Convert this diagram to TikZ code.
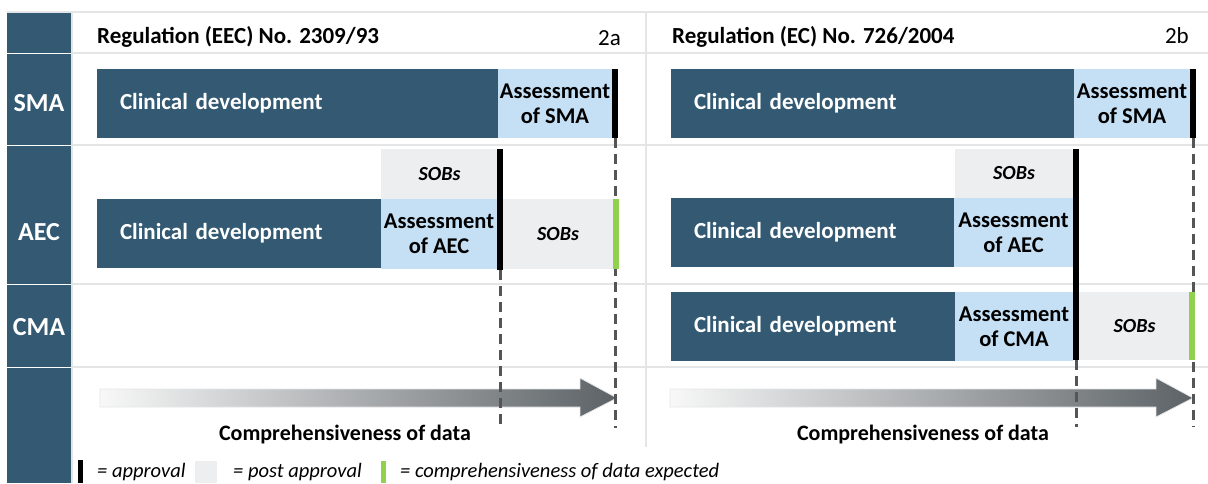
\documentclass[tikz,border=0pt]{standalone}
\usepackage{fontspec}
\setmainfont{Carlito}
\definecolor{devblue}{HTML}{345A73}
\definecolor{assessblue}{HTML}{C5E0F4}
\definecolor{sobgray}{HTML}{EDEEF0}
\definecolor{expgreen}{HTML}{92D050}
\definecolor{gridgray}{HTML}{E3E5E7}
\definecolor{dashgray}{HTML}{555555}
\definecolor{arrowdark}{HTML}{5C6266}
\definecolor{arrowlight}{HTML}{F8F8F8}
\begin{document}
\begin{tikzpicture}[x=1pt,y=-1pt,
  box/.style={rectangle, inner sep=0pt, outer sep=0pt, anchor=north west},
  sidecell/.style={box, fill=devblue, minimum width=64pt},
  sidetitle/.style={inner sep=0pt, text=white, font=\fontsize{26}{30}\selectfont\bfseries},
  devbar/.style={box, fill=devblue, text=white, align=left, inner xsep=23pt,
    minimum height=69pt, text width=#1,
    font=\fontsize{23}{27}\selectfont\bfseries},
  assess/.style={box, fill=assessblue, align=center, minimum height=69pt,
    font=\fontsize{22.5}{25}\selectfont\bfseries},
  sobs/.style={box, fill=sobgray, font=\fontsize{20}{24}\selectfont\bfseries\itshape},
  approval/.style={box, fill=black, minimum width=6pt},
  expected/.style={box, fill=expgreen, minimum width=6pt},
  gridline/.style={draw=gridgray, line width=2pt},
  dashline/.style={draw=dashgray, line width=3pt, dash pattern=on 10pt off 6pt},
  header/.style={anchor=west, inner sep=0pt, font=\fontsize{23}{27}\selectfont\bfseries},
  tag/.style={anchor=east, inner sep=0pt, font=\fontsize{23}{27}\selectfont},
  axislabel/.style={inner sep=0pt, font=\fontsize{22}{26}\selectfont\bfseries},
  legendtext/.style={anchor=west, inner sep=0pt, font=\fontsize{20.5}{24}\selectfont\itshape}
]
\useasboundingbox (0,0) rectangle (1208,483);

% side column with row titles
\node[sidecell, minimum height=41pt] (hdcell) at (7,12) {};
\node[sidecell, minimum height=91pt] (smacell) at (7,54) {};
\node[sidecell, minimum height=138pt] (aeccell) at (7,146) {};
\node[sidecell, minimum height=82pt] (cmacell) at (7,285) {};
\node[sidecell, minimum height=115pt] (axcell) at (7,368) {};
\node[sidetitle] (smatitle) at (39,103) {SMA};
\node[sidetitle] (aectitle) at (39,232) {AEC};
\node[sidetitle] (cmatitle) at (39,327) {CMA};

% table grid
\draw[gridline] (7,12) -- (1208,12);
\foreach \yy in {53,145,284,367} \draw[gridline] (72,\yy) -- (1208,\yy);
\draw[gridline] (72,12) -- (72,483);
\draw[gridline] (646,12) -- (646,447);

% headers
\node[header] (ha) at (97,37) {Regulation (EEC) No. 2309/93};
\node[tag] (ta) at (621,38) {2a};
\node[header] (hb) at (672,37) {Regulation (EC) No. 726/2004};
\node[tag] (tb) at (1189,36) {2b};

% ---------- 2a ----------
% SMA
\node[devbar=355pt] (a-smadev) at (97,69) {Clinical development};
\node[assess, minimum width=114pt] (a-smaass) at (498,69) {Assessment\\of SMA};
\node[approval, minimum height=69pt] (a-smaapp) at (612,69) {};
% AEC
\node[sobs, minimum width=117pt, minimum height=50pt] (a-aecsob1) at (381,149) {SOBs};
\node[devbar=238pt] (a-aecdev) at (97,199) {Clinical development};
\node[assess, minimum width=116pt, minimum height=70pt] (a-aecass) at (381,199) {Assessment\\of AEC};
\node[approval, minimum height=121pt] (a-aecapp) at (497,149) {};
\node[sobs, minimum width=110pt, minimum height=70pt] (a-aecsob2) at (503,199) {SOBs};

% ---------- 2b ----------
% SMA
\node[devbar=357pt] (b-smadev) at (671,69) {Clinical development};
\node[assess, minimum width=116pt] (b-smaass) at (1074,69) {Assessment\\of SMA};
\node[approval, minimum height=69pt] (b-smaapp) at (1190,69) {};
% AEC
\node[sobs, minimum width=118pt, minimum height=49pt] (b-aecsob) at (955,149) {SOBs};
\node[devbar=237pt] (b-aecdev) at (671,198) {Clinical development};
\node[assess, minimum width=119pt] (b-aecass) at (954,198) {Assessment\\of AEC};
% CMA
\node[devbar=238pt] (b-cmadev) at (671,292) {Clinical development};
\node[assess, minimum width=118pt] (b-cmaass) at (955,292) {Assessment\\of CMA};
\node[approval, minimum height=211pt] (b-app) at (1073,149) {};
\node[sobs, minimum width=111pt, minimum height=68pt] (b-cmasob) at (1079,292) {SOBs};

% ---------- comprehensiveness arrows ----------
\coordinate (a-tip) at (617,398);
\coordinate (b-tip) at (1193,398);
\shade[left color=arrowlight, right color=arrowdark, draw=gridgray, line width=0.8pt]
  (100,389) -- (580,389) -- (580,378) -- (a-tip) -- (580,417) -- (580,407) -- (100,407) -- cycle;
\shade[left color=arrowlight, right color=arrowdark, draw=gridgray, line width=0.8pt]
  (670,389) -- (1156,389) -- (1156,378) -- (b-tip) -- (1156,417) -- (1156,407) -- (670,407) -- cycle;
\node[axislabel] (a-axis) at (345,435) {Comprehensiveness of data};
\node[axislabel] (b-axis) at (923,435) {Comprehensiveness of data};

% dashed guides from approval points
\coordinate (a-end1) at (500,428);
\coordinate (a-end2) at (615,428);
\coordinate (b-end1) at (1076,427);
\coordinate (b-end2) at (1193,427);
\draw[dashline] (a-aecapp.south) -- (a-end1);
\draw[dashline] (a-smaapp.south) -- (a-end2);
\draw[dashline] (b-app.south) -- (b-end1);
\draw[dashline] (b-smaapp.south) -- (b-end2);

% expected comprehensiveness markers, over the guides
\node[expected, minimum height=70pt] (a-aecexp) at (613,199) {};
\node[expected, minimum height=68pt] (b-cmaexp) at (1189,292) {};

% legend
\node[box, fill=black, minimum width=5pt, minimum height=23pt] (lg-app) at (78,460) {};
\node[legendtext] (lg-apptxt) at (97,472) {= approval};
\node[box, fill=sobgray, minimum width=22pt, minimum height=22pt] (lg-post) at (195,461) {};
\node[legendtext] (lg-posttxt) at (233,472) {= post approval};
\node[box, fill=expgreen, minimum width=5pt, minimum height=22pt] (lg-exp) at (381,461) {};
\node[legendtext] (lg-exptxt) at (400,472) {= comprehensiveness of data expected};
\end{tikzpicture}
\end{document}
